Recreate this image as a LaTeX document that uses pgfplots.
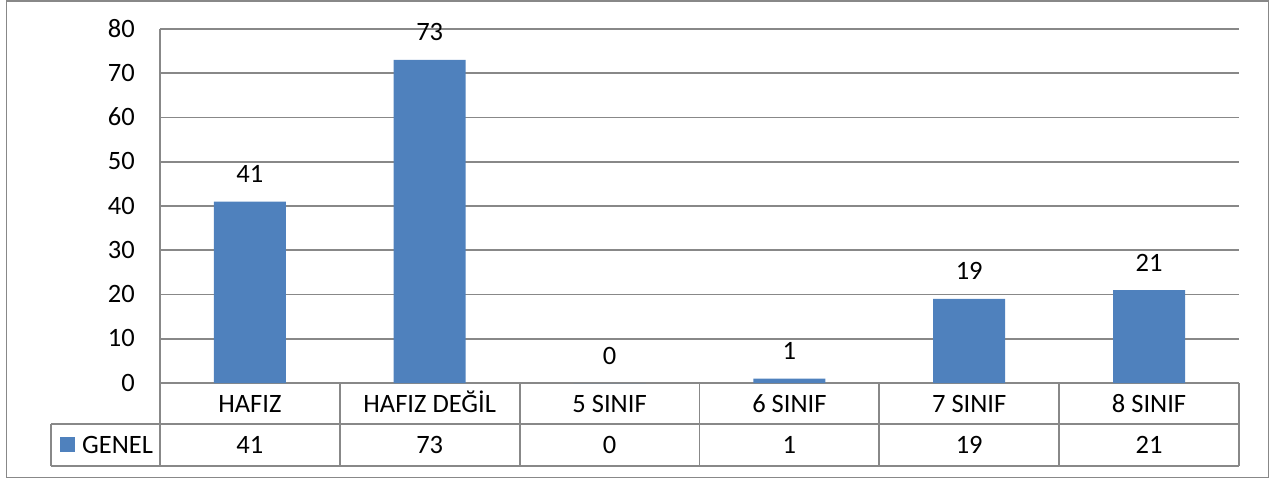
\documentclass[border=0pt]{standalone}
\usepackage{fontspec}
\setmainfont{Carlito}
\usepackage{pgfplots}
\pgfplotsset{compat=1.18}
\definecolor{barblue}{HTML}{4F81BD}
\definecolor{linegray}{HTML}{888888}
\newcommand{\lbl}{\fontsize{26.5}{31}\selectfont}

\begin{document}
\begin{tikzpicture}
\path[use as bounding box] (0pt,0pt) rectangle (1275pt,-479pt);
% chart area border
\draw[linegray, line width=1.8pt] (6.5pt,-0.9pt) rectangle (1268.5pt,-477.5pt);

\begin{axis}[
    at={(160pt,-383pt)}, anchor=south west,
    scale only axis, width=1079pt, height=354pt,
    xmin=-0.5, xmax=5.5, ymin=0, ymax=80,
    ytick={0,10,...,80},
    xtick={0,...,5},
    xticklabels={HAFIZ, HAFIZ DEĞİL, 5 SINIF, 6 SINIF, 7 SINIF, 8 SINIF},
    extra x ticks={0,...,5},
    extra x tick labels={41,73,0,1,19,21},
    extra x tick style={xticklabel style={yshift=-41pt}},
    axis lines*=left,
    axis line style={linegray, line width=1.8pt, -},
    ymajorgrids,
    grid style={linegray, line width=1.8pt},
    major tick length=0pt,
    tick style={draw=none},
    tick label style={font=\lbl, text=black},
    /pgf/number format/assume math mode=true,
    yticklabel style={anchor=base east, inner sep=0pt, xshift=-25pt, yshift=-8pt},
    xticklabel style={anchor=base, inner sep=0pt, yshift=-29pt},
    ybar, bar width=72pt, bar shift=0pt,
    nodes near coords,
    nodes near coords align={anchor=base},
    every node near coord/.append style={font=\lbl, text=black, inner sep=0pt, yshift=19pt},
    clip=false,
]
\addplot[fill=barblue, draw=none] coordinates {(0,41) (1,73) (2,0) (3,1) (4,19) (5,21)};

% data table grid
\pgfplotsinvokeforeach{-0.5,0.5,1.5,2.5,3.5,4.5,5.5}{
  \draw[linegray, line width=1.8pt] (axis cs:#1,0) -- ([yshift=-83pt]axis cs:#1,0);
}
\draw[linegray, line width=1.8pt] ([xshift=-109pt,yshift=-41pt]axis cs:-0.5,0) -- ([yshift=-41pt]axis cs:5.5,0);
\draw[linegray, line width=1.8pt] ([xshift=-109pt,yshift=-83pt]axis cs:-0.5,0) -- ([yshift=-83pt]axis cs:5.5,0);
\draw[linegray, line width=1.8pt] ([xshift=-109pt,yshift=-41pt]axis cs:-0.5,0) -- ([xshift=-109pt,yshift=-83pt]axis cs:-0.5,0);
% legend key
\fill[barblue] ([xshift=-100pt,yshift=-54pt]axis cs:-0.5,0) rectangle ([xshift=-85pt,yshift=-69pt]axis cs:-0.5,0);
\node[anchor=base west, inner sep=0pt, font=\lbl] at ([xshift=-78pt,yshift=-70pt]axis cs:-0.5,0) {GENEL};
\end{axis}
\end{tikzpicture}
\end{document}
